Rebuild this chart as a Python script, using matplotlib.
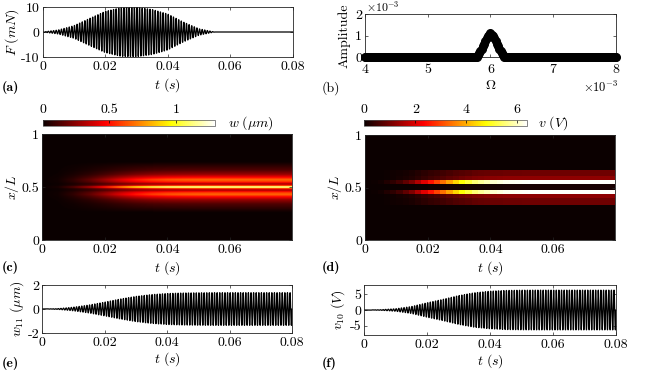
import numpy as np
import matplotlib
matplotlib.use("Agg")
import matplotlib.pyplot as plt

plt.rcParams['font.family'] = ['cmr10', 'DejaVu Serif']
plt.rcParams['mathtext.fontset'] = 'cm'
plt.rcParams['axes.unicode_minus'] = False
plt.rcParams['font.size'] = 10
plt.rcParams['axes.linewidth'] = 0.6

# envelopes, every 0.005 s
t_env = [0, .005, .01, .015, .02, .025, .03, .035, .04, .045, .05, .055, .06, .065, .07, .075, .08]
F_env = [0, 0.8, 2.5, 5.4, 8.2, 9.7, 9.9, 9.0, 7.2, 4.0, 1.3, 0, 0, 0, 0, 0, 0]        # mN
w_env = [0, 0.03, 0.15, 0.33, 0.57, 0.83, 1.05, 1.2, 1.29, 1.33, 1.35, 1.36, 1.36, 1.36, 1.36, 1.36, 1.36]  # um
v_env = [0, 0.08, 0.4, 1.1, 2.3, 3.4, 4.6, 5.5, 6.0, 6.25, 6.33, 6.35, 6.35, 6.35, 6.35, 6.35, 6.35]  # V
f_carrier = 1200.0  # Hz, counted from the stripes

# spectrum (Omega in units of 1e-3)
omega_pts = [4.0, 5.78, 5.85, 5.9, 5.95, 6.0, 6.05, 6.1, 6.15, 6.22, 8.0]
amp_pts = [0, 0, 0.3, 0.62, 0.95, 1.1, 0.95, 0.62, 0.3, 0, 0]  # x1e-3

# spatial profile of w (fraction of peak)
xw = [0, 0.26, 0.30, 0.34, 0.38, 0.41, 0.43, 0.45, 0.47, 0.485, 0.5,
      0.515, 0.53, 0.55, 0.57, 0.59, 0.62, 0.66, 0.70, 0.74, 1.0]
w_prof = [0, 0, 0.05, 0.1, 0.2, 0.36, 0.5, 0.42, 0.22, 0.35, 1.0,
          0.35, 0.22, 0.42, 0.5, 0.36, 0.2, 0.1, 0.05, 0, 0]

# v on piezo cells (fraction of peak)
xv_edges = [0, 0.335, 0.40, 0.437, 0.477, 0.53, 0.572, 0.61, 0.667, 1.0]
v_cells = [0, 0.15, 0.2, 1.0, 0.02, 1.0, 0.2, 0.15, 0]

t_end = 0.0798

fig = plt.figure(figsize=(6.46, 3.74), dpi=100)
H = 374.0
W = 646.0


def ax_at(x0, x1, y0, y1):
    return fig.add_axes([x0 / W, 1 - y1 / H, (x1 - x0) / W, (y1 - y0) / H])


def style(ax):
    ax.tick_params(direction='in', length=2.5, width=0.5, top=True, right=True,
                   pad=3, colors='#262626', labelcolor='black')
    ax.tick_params(axis='y', pad=2)
    for s in ax.spines.values():
        s.set_color('#262626')


tt = np.linspace(0, 0.08, 40001)
carrier = np.sin(2 * np.pi * f_carrier * tt)
tx_ticks = [0, 0.02, 0.04, 0.06, 0.08]
tx_labels = ['0', '0.02', '0.04', '0.06', '0.08']

# (a) force
ax = ax_at(42.5, 292.7, 7, 57)
ax.plot(tt, np.interp(tt, t_env, F_env) * carrier, color='k', lw=0.9)
ax.set_xlim(0, 0.08)
ax.set_ylim(-10, 10)
ax.set_xticks(tx_ticks, tx_labels)
ax.set_yticks([-10, 0, 10], ['-10', '0', '10'])
ax.set_xlabel(r'$t\ (s)$', labelpad=2)
ax.set_ylabel(r'$F\ (mN)$', labelpad=0)
style(ax)

# (b) spectrum
ax = ax_at(365, 616, 14, 57)
om = np.arange(4.0, 8.0001, 0.02)
ax.plot(om, np.interp(om, omega_pts, amp_pts), 'o-', color='k', ms=5.5, lw=3,
        clip_on=False, zorder=3)
ax.set_xlim(4, 8)
ax.set_ylim(0, 2)
ax.set_xticks([4, 5, 6, 7, 8], ['4', '5', '6', '7', '8'])
ax.set_yticks([0, 1, 2], ['0', '1', '2'])
ax.set_xlabel(r'$\Omega$', labelpad=2)
ax.set_ylabel('Amplitude', labelpad=3)
style(ax)
ax.tick_params(axis='x', pad=5)
fig.text(583 / W, 1 - 87 / H, r'$\times10^{-3}$', va='center', fontsize=9)
fig.text(366 / W, 1 - 6.5 / H, r'$\times10^{-3}$', va='center', fontsize=8.5)

# (c) w map
ax = ax_at(42, 292, 134, 240)
xg = np.linspace(0, 1, 301)
tg = np.linspace(0, t_end, 400)
wmap = np.outer(np.interp(xg, xw, w_prof), np.interp(tg, t_env, w_env))
im = ax.imshow(wmap, origin='lower', aspect='auto', extent=[0, t_end, 0, 1],
               cmap='hot', vmin=0, vmax=1.29, interpolation='bilinear')
ax.set_xlim(0, t_end)
ax.set_ylim(0, 1)
ax.set_xticks(tx_ticks[:4], tx_labels[:4])
ax.set_yticks([0, 0.5, 1], ['0', '0.5', '1'])
ax.set_xlabel(r'$t\ (s)$', labelpad=2)
ax.set_ylabel(r'$x/L$', labelpad=0)
style(ax)
cax = ax_at(42.7, 215, 120, 126)
cb = fig.colorbar(im, cax=cax, orientation='horizontal')
cax.xaxis.set_ticks_position('top')
cb.set_ticks([0, 0.5, 1], labels=['0', '0.5', '1'])
cax.tick_params(direction='in', length=2, width=0.5, pad=3)
cb.outline.set_linewidth(0.5)
cb.outline.set_edgecolor('#555555')
fig.text(228 / W, 1 - 123 / H, r'$w\ (\mu m)$', va='center')

# (d) v map
ax = ax_at(365, 615, 135, 240)
t_edges = np.append(np.arange(0, 0.078, 0.002), t_end)
t_mid = 0.5 * (t_edges[:-1] + t_edges[1:])
vmap = np.outer(v_cells, np.interp(t_mid, t_env, v_env))
im2 = ax.pcolormesh(t_edges, xv_edges, vmap, cmap='hot', vmin=0, vmax=6.39, shading='flat')
ax.set_xlim(0, t_end)
ax.set_ylim(0, 1)
ax.set_xticks(tx_ticks[:4], tx_labels[:4])
ax.set_yticks([0, 0.5, 1], ['0', '0.5', '1'])
ax.set_xlabel(r'$t\ (s)$', labelpad=2)
ax.set_ylabel(r'$x/L$', labelpad=0)
style(ax)
cax2 = ax_at(364.3, 527.3, 120, 126)
cb2 = fig.colorbar(im2, cax=cax2, orientation='horizontal')
cax2.xaxis.set_ticks_position('top')
cb2.set_ticks([0, 2, 4, 6], labels=['0', '2', '4', '6'])
cax2.tick_params(direction='in', length=2, width=0.5, pad=3)
cb2.outline.set_linewidth(0.5)
cb2.outline.set_edgecolor('#555555')
fig.text(538 / W, 1 - 123 / H, r'$v\ (V)$', va='center')

# (e) w11
ax = ax_at(42, 292, 285, 333)
ax.plot(tt, np.interp(tt, t_env, w_env) * carrier, color='k', lw=0.9)
ax.set_xlim(0, 0.08)
ax.set_ylim(-2, 2)
ax.set_xticks(tx_ticks, tx_labels)
ax.set_yticks([-2, 0, 2], ['-2', '0', '2'])
ax.set_xlabel(r'$t\ (s)$', labelpad=1)
ax.set_ylabel(r'$w_{11}\ (\mu m)$', labelpad=1)
style(ax)

# (f) v10
ax = ax_at(364, 616, 285, 335)
ax.plot(tt, np.interp(tt, t_env, v_env) * carrier, color='k', lw=0.9)
ax.set_xlim(0, 0.08)
ax.set_ylim(-8, 8)
ax.set_xticks(tx_ticks, tx_labels)
ax.set_yticks([-5, 0, 5], ['-5', '0', '5'])
ax.set_xlabel(r'$t\ (s)$', labelpad=1)
ax.set_ylabel(r'$v_{10}\ (V)$', labelpad=2)
style(ax)

# panel labels
for lab, x, y, bold in [('(a)', 2, 88, True), ('(b)', 322, 88, False),
                        ('(c)', 2, 268, True), ('(d)', 322, 268, True),
                        ('(e)', 2, 364, True), ('(f)', 322, 364, True)]:
    fig.text(x / W, 1 - y / H, lab, va='center',
             fontfamily='cmb10' if bold else 'cmr10')

fig.savefig('out.png', dpi=100)
